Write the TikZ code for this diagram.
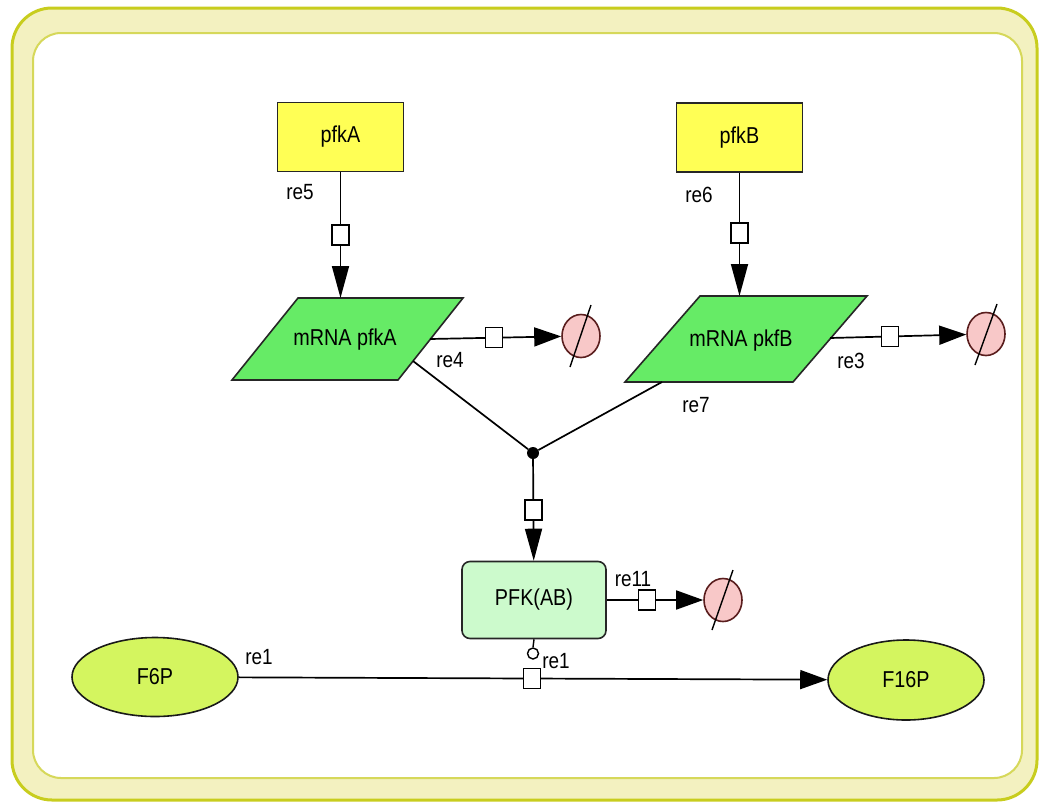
\documentclass[tikz,border=0pt]{standalone}
\usepackage{fontspec}
\setmainfont{Liberation Sans}[FakeStretch=0.86]
\usetikzlibrary{arrows.meta,shapes.geometric}

\definecolor{frameedge}{RGB}{200,205,30}
\definecolor{framefill}{RGB}{243,241,192}
\definecolor{inneredge}{RGB}{214,216,90}
\definecolor{genefill}{RGB}{255,255,85}
\definecolor{mrnafill}{RGB}{102,235,102}
\definecolor{protfill}{RGB}{204,250,204}
\definecolor{metfill}{RGB}{212,245,95}
\definecolor{degfill}{RGB}{248,200,200}
\definecolor{degedge}{RGB}{90,30,30}

\tikzset{
  x=1pt, y=-1pt,
  every node/.style={font=\fontsize{23}{26}\selectfont},
  gene/.style={draw=black!85, line width=1.6pt, fill=genefill,
    minimum width=126pt, minimum height=69pt, inner sep=0pt},
  mrna/.style={draw=black!85, line width=1.6pt, fill=mrnafill},
  prot/.style={draw=black!85, line width=1.6pt, fill=protfill, rounded corners=8pt,
    minimum width=144pt, minimum height=77pt, inner sep=0pt},
  met/.style={draw=black!90, line width=1.6pt, fill=metfill, ellipse,
    inner sep=0pt},
  degr/.style={draw=degedge, line width=1.6pt, fill=degfill, ellipse,
    minimum width=38pt, minimum height=43pt, inner sep=0pt},
  procbox/.style={draw=black, line width=1.4pt, fill=white, rectangle,
    minimum width=17pt, minimum height=20pt, inner sep=0pt},
  junction/.style={circle, fill=black, minimum size=12pt, inner sep=0pt},
  catcirc/.style={circle, draw=black, line width=1.4pt, fill=white,
    minimum size=11pt, inner sep=0pt},
  link/.style={draw=black, line width=1.7pt},
  hconn/.style={link, -{Triangle[length=27pt,width=19pt]}},
  vconn/.style={link, -{Triangle[length=32pt,width=17pt]}},
  lbl/.style={font=\fontsize{22}{24}\selectfont, inner sep=0pt},
}

\begin{document}
\begin{tikzpicture}
\useasboundingbox (0,0) rectangle (1040,803);

% frame
\draw[draw=frameedge, fill=framefill, line width=3pt, rounded corners=40pt]
  (12,8) rectangle (1037,800);
\draw[draw=inneredge, fill=white, line width=2pt, rounded corners=28pt]
  (33,33) rectangle (1022,778);

% genes
\node[gene] (pfkA) at (340.5,137) {pfkA};
\node[gene] (pfkB) at (739.5,137.5) {pfkB};

% transcripts
\draw[mrna] (298,298) -- (463,298) -- (398,380) -- (232,380) -- cycle;
\node (mrnaA) at (345,340) {mRNA pfkA};
\coordinate (mAtop) at (340.5,298);
\coordinate (mAright) at (430,339);
\coordinate (mAlow) at (413,361);

\draw[mrna] (700,296) -- (867,296) -- (793,382) -- (625,382) -- cycle;
\node (mrnaB) at (741,341) {mRNA pkfB};
\coordinate (mBtop) at (739.5,296);
\coordinate (mBright) at (830,338);
\coordinate (mBlow) at (662,382);

% protein and metabolites
\node[prot] (pfkAB) at (534,600) {PFK(AB)};
\node[met, minimum width=166pt, minimum height=79pt] (f6p) at (155,677) {F6P};
\node[met, minimum width=156pt, minimum height=80pt] (f16p) at (906,680) {F16P};

% degradation sinks
\node[degr] (sinkA) at (581,336) {};
\node[degr] (sinkB) at (986,334) {};
\node[degr] (sinkC) at (723,600) {};
\draw[line width=1.4pt] ([shift={(10,-31)}]sinkA.center) -- ([shift={(-11,31)}]sinkA.center);
\draw[line width=1.4pt] ([shift={(11,-30)}]sinkB.center) -- ([shift={(-11,31)}]sinkB.center);
\draw[line width=1.4pt] ([shift={(10,-30)}]sinkC.center) -- ([shift={(-11,30)}]sinkC.center);

% transcription
\draw[vconn] (pfkA) -- node[procbox, pos=0.5] {} (mAtop);
\draw[vconn] (pfkB) -- node[procbox, pos=0.49] {} (mBtop);

% mRNA degradation
\draw[hconn] (mAright) -- node[procbox, pos=0.49] {} (sinkA);
\draw[hconn] (mBright) -- node[procbox, pos=0.44] {} (sinkB);

% translation into the complex
\node[junction] (join) at (533,453) {};
\draw[link] (mAlow) -- (join);
\draw[link] (mBlow) -- (join);
\draw[vconn] (join) -- node[procbox, pos=0.5] {} (pfkAB);

% complex degradation
\draw[hconn] (pfkAB) -- node[procbox, pos=0.42] {} (sinkC);

% F6P -> F16P catalysed by PFK(AB)
\draw[hconn] (f6p) -- node[procbox, pos=0.498] (r1) {} (f16p);
\node[catcirc] (cat) at (533,653.5) {};
\draw[line width=1.4pt] (pfkAB.south) -- (cat.north);

% reaction labels
\node[lbl] (l5) at (300,192) {re5};
\node[lbl] (l6) at (699,195) {re6};
\node[lbl] (l4) at (450,360) {re4};
\node[lbl] (l3) at (851,361) {re3};
\node[lbl] (l7) at (696,405) {re7};
\node[lbl] (l11) at (633,579) {re11};
\node[lbl] (l1a) at (556,661) {re1};
\node[lbl] (l1b) at (259,657) {re1};
\end{tikzpicture}
\end{document}
